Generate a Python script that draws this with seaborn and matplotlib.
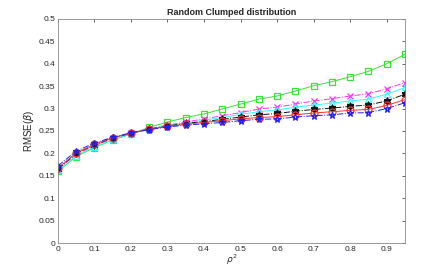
import numpy as np
import pandas as pd
import matplotlib
matplotlib.use("Agg")
import matplotlib.pyplot as plt
import seaborn as sns

rho2 = [0, 0.05, 0.1, 0.15, 0.2, 0.25, 0.3, 0.35, 0.4, 0.45, 0.5,
        0.55, 0.6, 0.65, 0.7, 0.75, 0.8, 0.85, 0.9, 0.95]

green_sq = [0.160, 0.193, 0.213, 0.230, 0.243, 0.258, 0.270, 0.280, 0.288, 0.299,
            0.310, 0.321, 0.328, 0.339, 0.351, 0.360, 0.371, 0.383, 0.400, 0.421]
magenta_x = [0.165, 0.197, 0.217, 0.232, 0.245, 0.255, 0.263, 0.270, 0.277, 0.284,
             0.291, 0.299, 0.303, 0.310, 0.317, 0.322, 0.328, 0.333, 0.344, 0.358]
cyan_tri = [0.162, 0.195, 0.215, 0.231, 0.244, 0.254, 0.262, 0.268, 0.274, 0.280,
            0.287, 0.293, 0.297, 0.303, 0.308, 0.312, 0.317, 0.321, 0.332, 0.347]
black_ast = [0.165, 0.200, 0.219, 0.234, 0.245, 0.254, 0.261, 0.267, 0.271, 0.276,
             0.281, 0.286, 0.289, 0.294, 0.298, 0.301, 0.305, 0.308, 0.317, 0.332]
red_circ = [0.167, 0.201, 0.220, 0.235, 0.245, 0.254, 0.260, 0.265, 0.269, 0.273,
            0.277, 0.280, 0.282, 0.286, 0.290, 0.293, 0.296, 0.298, 0.307, 0.320]
blue_star = [0.172, 0.205, 0.223, 0.236, 0.246, 0.253, 0.259, 0.263, 0.266, 0.269,
             0.273, 0.276, 0.277, 0.281, 0.284, 0.286, 0.290, 0.291, 0.300, 0.313]

sns.set_style("white")
plt.rcParams['font.family'] = ['Liberation Sans', 'DejaVu Sans']
plt.rcParams['mathtext.fontset'] = 'dejavusans'

fig = plt.figure(figsize=(4.45, 2.74), dpi=100)
ax = fig.add_axes([0.130, 0.113, 0.780, 0.818])

# (values, color, linestyle, marker, filled)
series = [
    (green_sq, '#33e633', '-', 's', False),
    (magenta_x, '#ff33ff', '-.', 'x', True),
    (cyan_tri, '#33ffff', '-', '^', False),
    (black_ast, '#111111', '-.', 'o', True),
    (red_circ, '#ff3333', '-', 'o', False),
    (blue_star, '#2222ee', '-.', '*', False),
]

for vals, color, ls, mk, filled in series:
    df = pd.DataFrame({'x': rho2, 'y': vals})
    sns.lineplot(data=df, x='x', y='y', ax=ax, color=color, linestyle=ls, linewidth=0.7,
                 marker=mk, markersize=5 if mk != 'o' or not filled else 3.5,
                 markerfacecolor=color if filled else 'none',
                 markeredgecolor=color, markeredgewidth=0.9)
    if mk == 'o' and filled:
        # asterisk on top of the filled dot
        ax.plot(rho2, vals, linestyle='none', marker=(6, 2, 0), markersize=5.5,
                color=color, markeredgewidth=0.9)

ax.set_xlim(0, 0.95)
ax.set_ylim(0, 0.5)
ax.set_xticks(np.arange(0, 0.95, 0.1))
ax.set_xticklabels(['0', '0.1', '0.2', '0.3', '0.4', '0.5', '0.6', '0.7', '0.8', '0.9'])
ax.set_yticks(np.arange(0, 0.501, 0.05))
ax.set_yticklabels(['0', '0.05', '0.1', '0.15', '0.2', '0.25', '0.3', '0.35', '0.4', '0.45', '0.5'])
ax.tick_params(direction='in', length=2.5, width=0.5, labelsize=6, colors='#262626',
               top=True, right=True, pad=2)
for sp in ax.spines.values():
    sp.set_color('#888888')
    sp.set_linewidth(0.6)
ax.set_xlabel(r'$\rho^2$', fontsize=6.5, labelpad=0, color='#262626')
ax.set_ylabel(r'RMSE($\beta$)', fontsize=7, labelpad=2, color='#262626')
ax.set_title('Random Clumped distribution', fontsize=6.5, fontweight='bold', pad=3)

fig.savefig('out.png', dpi=100)
